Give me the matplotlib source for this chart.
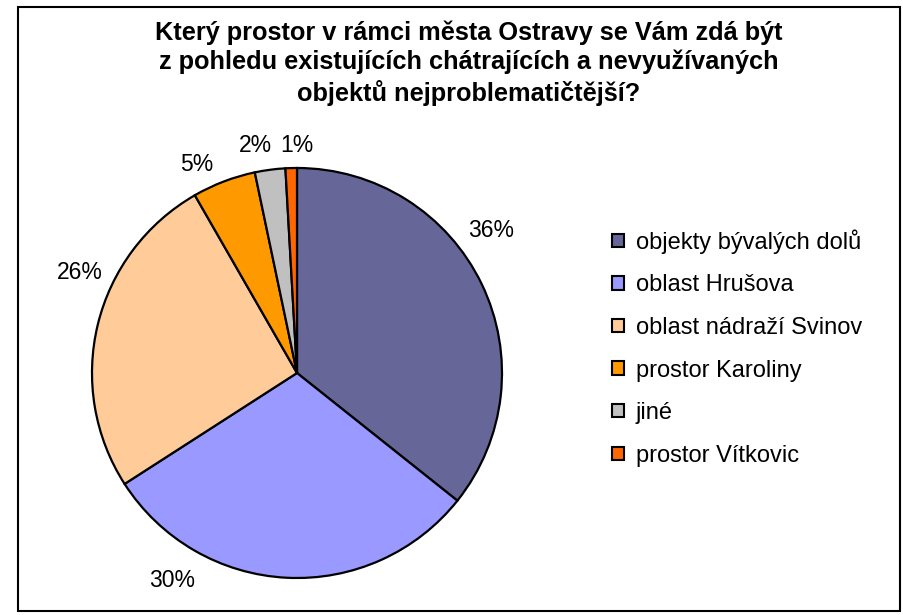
import matplotlib
matplotlib.use("Agg")
import matplotlib.pyplot as plt
from matplotlib.patches import Rectangle

plt.rcParams['font.family'] = ['Liberation Sans', 'DejaVu Sans']

categories = ["objekty bývalých dolů", "oblast Hrušova", "oblast nádraží Svinov",
              "prostor Karoliny", "jiné", "prostor Vítkovic"]
values = [35.7, 30.2, 25.8, 5.0, 2.4, 0.9]
colors = ["#666699", "#9999FF", "#FFCC99", "#FF9900", "#C0C0C0", "#FF6600"]
title = ("Který prostor v rámci města Ostravy se Vám zdá být\n"
         "z pohledu existujících chátrajících a nevyužívaných\n"
         "objektů nejproblematičtější?")

# label anchor positions in pie-radius units (layout only)
label_pos = [(0.949, 0.693), (-0.610, -1.010), (-1.061, 0.488),
             (-0.488, 1.015), (-0.202, 1.112), (-0.002, 1.112)]

W, H = 904, 615
fig = plt.figure(figsize=(W / 100, H / 100), dpi=100)

cx, cy, r = 297, 373, 205
ax = fig.add_axes([(cx - r) / W, (H - cy - r) / H, 2 * r / W, 2 * r / H])
wedges, _ = ax.pie(values, colors=colors, startangle=90, counterclock=False,
                   radius=1, wedgeprops=dict(edgecolor="black", linewidth=1.6))
ax.set_xlim(-1, 1)
ax.set_ylim(-1, 1)
ax.set_aspect("equal")
ax.axis("off")

total = sum(values)
for v, (lx, ly) in zip(values, label_pos):
    ax.text(lx, ly, f"{round(v / total * 100):.0f}%", ha="center", va="center",
            fontsize=16.5, clip_on=False)

fig.text(469 / W, 1 - 63 / H, title, ha="center", va="center", fontsize=18.3,
         fontweight="bold", linespacing=1.27)

leg = fig.legend(wedges, categories, loc="center left",
                 bbox_to_anchor=(591 / W, 1 - 348 / H), frameon=False,
                 fontsize=17, labelspacing=0.87, handlelength=0.5,
                 handleheight=0.5, handletextpad=0.5)
for h in leg.legend_handles:
    h.set_linewidth(1.5)

fig.add_artist(Rectangle((18 / W, 1 - 611 / H), (900 - 18) / W, (611 - 7) / H,
                         transform=fig.transFigure, fill=False,
                         edgecolor="black", linewidth=1.5))

fig.savefig("out.png", dpi=100)
